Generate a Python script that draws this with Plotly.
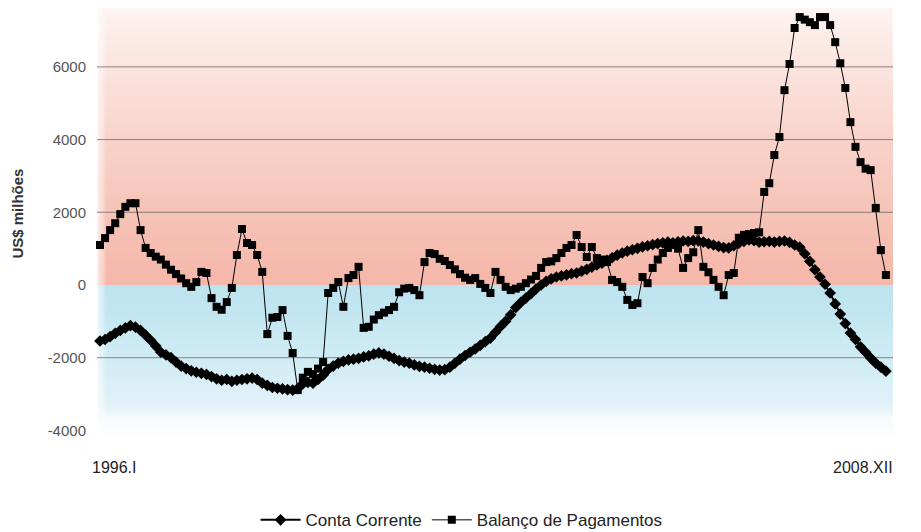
import plotly.graph_objects as go

# Monthly series, 1996.I to 2008.XII (US$ millions)
months = list(range(156))

conta_corrente = [
    -1540, -1500, -1420, -1330, -1250, -1180, -1120, -1160, -1250, -1380,
    -1520, -1680, -1850, -1920, -2000, -2120, -2230, -2300, -2360, -2400,
    -2430, -2460, -2520, -2580, -2620, -2600, -2650, -2620, -2600, -2580,
    -2560, -2600, -2700, -2760, -2820, -2840, -2860, -2880, -2890, -2850,
    -2720, -2680, -2700, -2600, -2480, -2320, -2230, -2150, -2100, -2060,
    -2040, -2020, -1980, -1950, -1900, -1870, -1900, -1960, -2020, -2080,
    -2120, -2150, -2200, -2240, -2260, -2290, -2320, -2340, -2330, -2260,
    -2150, -2040, -1940, -1850, -1760, -1660, -1560, -1460, -1300, -1140,
    -1000, -820, -620, -480, -360, -240, -110, 0, 100, 170,
    220, 250, 280, 310, 330, 380, 430, 490, 550, 600,
    680, 750, 820, 880, 930, 970, 1010, 1050, 1080, 1110,
    1140, 1160, 1180, 1160, 1190, 1210, 1200, 1220, 1210, 1180,
    1140, 1100, 1060, 1030, 1020, 1080, 1150, 1200, 1240, 1220,
    1180, 1190, 1200, 1180, 1200, 1210, 1170, 1100, 1040, 860,
    650, 420, 220, 20, -220, -520, -800, -1060, -1320, -1500,
    -1700, -1850, -2010, -2150, -2260, -2370,
]

balanco_pagamentos = [
    1100, 1290, 1510, 1700, 1950, 2150, 2250, 2250, 1510, 1020,
    880, 780, 700, 560, 420, 300, 180, 50, -50, 80,
    360, 330, -360, -600, -680, -470, -80, 825, 1540, 1155,
    1100, 825, 360, -1350, -900, -880, -690, -1400, -1870, -2890,
    -2550, -2390, -2450, -2300, -2120, -220, -80, 80, -600, 190,
    275, 500, -1180, -1150, -950, -830, -760, -690, -600, -200,
    -100, -80, -140, -280, 630, 880, 850, 720, 660, 550,
    430, 300, 200, 140, 190, 30, -80, -220, 360, 140,
    -50, -140, -100, -50, 50, 150, 250, 470, 630, 650,
    740, 880, 1020, 1100, 1375, 1045, 770, 1045, 740, 700,
    630, 140, 80, -50, -410, -550, -500, 220, 50, 470,
    700, 880, 1020, 1100, 1000, 470, 740, 900, 1510, 500,
    350, 140, -50, -280, 275, 330, 1300, 1380, 1400, 1430,
    1450, 2560, 2800, 3575, 4070, 5360, 6080, 7070, 7370, 7300,
    7230, 7150, 7370, 7370, 7150, 6680, 6100, 5420, 4480, 3800,
    3380, 3200, 3160, 2120, 960, 275,
]

y_ticks = [-4000, -2000, 0, 2000, 4000, 6000]
y_tick_text = ["-4000", "-2000", "0", "2000", "4000", "6000"]
grid_values = [-2000, 2000, 4000, 6000]
first_label = "1996.I"
last_label = "2008.XII"

Y_MIN, Y_MAX = -4264, 7620
X_MIN, X_MAX = -0.59, 156.4


def lerp_color(stops, v):
    for (v0, c0), (v1, c1) in zip(stops, stops[1:]):
        if v0 <= v <= v1:
            t = (v - v0) / (v1 - v0) if v1 != v0 else 0
            return "rgb(%d,%d,%d)" % tuple(round(a + (b - a) * t) for a, b in zip(c0, c1))
    return "rgb(%d,%d,%d)" % stops[-1][1]


# background: warm band above zero, cool band below, both fading out
warm = [(0, (245, 183, 169)), (1500, (246, 192, 180)), (3500, (247, 207, 197)),
        (5500, (250, 224, 217)), (7000, (252, 238, 233)), (Y_MAX, (253, 244, 241))]
cool = [(Y_MIN, (255, 255, 255)), (-3650, (247, 251, 253)), (-3400, (228, 243, 249)),
        (-2500, (214, 238, 246)), (-1200, (199, 232, 242)), (0, (188, 227, 239))]

shapes = []
n = 60
step_w = Y_MAX / n
for k in range(n):
    a = Y_MAX * k / n
    b = min(Y_MAX, a + 2 * step_w)  # overlap strips so no seams show
    shapes.append(dict(type="rect", xref="paper", yref="y", x0=0, x1=1, y0=a, y1=b,
                       fillcolor=lerp_color(warm, a + step_w / 2), line=dict(width=0), layer="below"))
step_c = -Y_MIN / n
for k in range(n):
    a = Y_MIN * k / n
    b = max(Y_MIN, a - 2 * step_c)
    shapes.append(dict(type="rect", xref="paper", yref="y", x0=0, x1=1, y0=b, y1=a,
                       fillcolor=lerp_color(cool, a - step_c / 2), line=dict(width=0), layer="below"))
# soft left edge of the plot background
for k in range(8):
    shapes.append(dict(type="rect", xref="paper", yref="paper", x0=k * 0.0015, x1=(k + 1) * 0.0015,
                       y0=0, y1=1, fillcolor="white", opacity=0.8 - k * 0.1,
                       line=dict(width=0), layer="below"))
for g in grid_values:
    shapes.append(dict(type="line", xref="paper", yref="y", x0=0, x1=1, y0=g, y1=g,
                       line=dict(color="rgba(110,95,95,0.75)", width=1), layer="below"))

fig = go.Figure()
fig.add_trace(go.Scatter(
    x=months, y=conta_corrente, name="Conta Corrente", mode="lines+markers",
    line=dict(color="black", width=2),
    marker=dict(symbol="diamond", size=9, color="black"),
    cliponaxis=False,
))
fig.add_trace(go.Scatter(
    x=months, y=balanco_pagamentos, name="Balanço de Pagamentos", mode="lines+markers",
    line=dict(color="black", width=1),
    marker=dict(symbol="square", size=8, color="black"),
    cliponaxis=False,
))

fig.update_layout(
    width=921, height=532,
    margin=dict(l=97, r=28, t=8, b=92, autoexpand=False),
    paper_bgcolor="white", plot_bgcolor="white",
    font=dict(family="Liberation Sans, Arial, sans-serif", color="#333"),
    shapes=shapes,
    showlegend=True,
    legend=dict(orientation="h", x=0.458, xanchor="center",
                yref="container", y=0.022, yanchor="middle",
                font=dict(size=17, color="#222"), bgcolor="rgba(0,0,0,0)", itemwidth=40),
    xaxis=dict(range=[X_MIN, X_MAX], showgrid=False, zeroline=False, showline=False,
               showticklabels=False, ticks="", automargin=False),
    yaxis=dict(range=[Y_MIN, Y_MAX], tickvals=y_ticks, ticktext=y_tick_text,
               showgrid=False, zeroline=False, automargin=False,
               showline=False, ticks="", ticklabelstandoff=10,
               tickfont=dict(size=15, color="#555")),
    annotations=[
        dict(text="<b>US$ milhões</b>", xref="paper", yref="paper", x=-0.1, y=0.525,
             textangle=-90, showarrow=False, font=dict(size=15, color="#333"),
             xanchor="center", yanchor="middle"),
        dict(text=first_label, xref="paper", yref="paper", x=-0.009, y=-0.063,
             xanchor="left", yanchor="middle", showarrow=False,
             font=dict(size=16, color="#222")),
        dict(text=last_label, xref="paper", yref="paper", x=1.003, y=-0.063,
             xanchor="right", yanchor="middle", showarrow=False,
             font=dict(size=16, color="#222")),
    ],
)

fig.write_html("out.html")
